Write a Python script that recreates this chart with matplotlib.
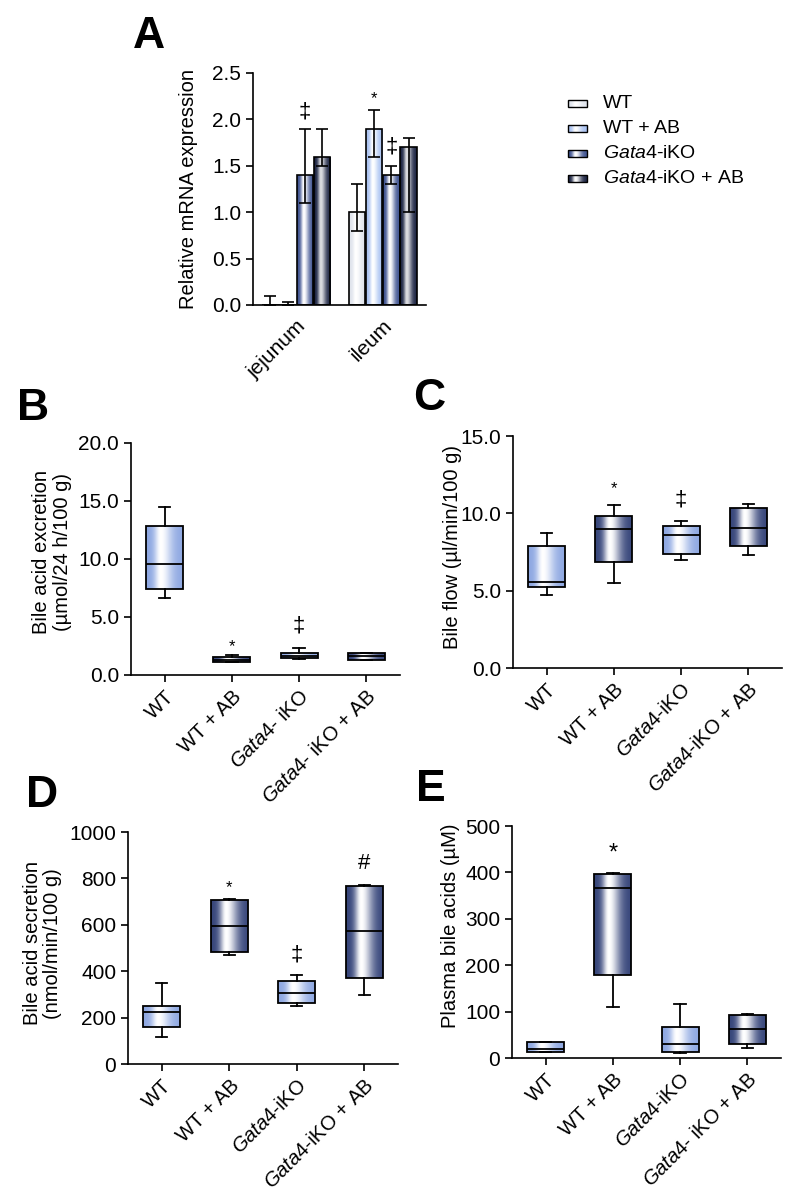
import numpy as np
import matplotlib
matplotlib.use('Agg')
from matplotlib import pyplot as plt
from matplotlib import patches as mpatches
from matplotlib.colors import to_rgb

plt.rcParams['font.family'] = 'Liberation Sans'
plt.rcParams['mathtext.fontset'] = 'custom'
plt.rcParams['mathtext.rm'] = 'Liberation Sans'
plt.rcParams['mathtext.it'] = 'Liberation Sans:italic'
plt.rcParams['axes.linewidth'] = 1.2

W, H = 800, 1195

GROUPS = ['WT', 'WT + AB', r'$\it{Gata4}$-iKO', r'$\it{Gata4}$-iKO + AB']
GROUPS_B = ['WT', 'WT + AB', r'$\it{Gata4}$- iKO', r'$\it{Gata4}$- iKO + AB']
GROUPS_E = ['WT', 'WT + AB', r'$\it{Gata4}$-iKO', r'$\it{Gata4}$- iKO + AB']

# Panel A - relative mRNA expression (mean, lower err, upper err)
A_TISSUES = ['jejunum', 'ileum']
a_wt = [0.0, 1.0]
a_wt_lo = [0.0, 0.8]
a_wt_hi = [0.1, 1.3]
a_wtab = [0.0, 1.9]
a_wtab_lo = [0.0, 1.6]
a_wtab_hi = [0.03, 2.1]
a_ko = [1.4, 1.4]
a_ko_lo = [1.1, 1.3]
a_ko_hi = [1.9, 1.5]
a_koab = [1.6, 1.7]
a_koab_lo = [1.5, 1.0]
a_koab_hi = [1.9, 1.8]

# box stats: whislo, q1, med, q3, whishi
b_stats = [[6.65, 7.42, 9.57, 12.84, 14.44],
           [1.09, 1.09, 1.30, 1.58, 1.69],
           [1.40, 1.43, 1.63, 1.92, 2.32],
           [1.29, 1.32, 1.60, 1.86, 1.89]]
c_stats = [[4.69, 5.24, 5.54, 7.87, 8.70],
           [5.50, 6.86, 8.96, 9.84, 10.51],
           [6.98, 7.35, 8.58, 9.16, 9.52],
           [7.31, 7.91, 9.07, 10.36, 10.60]]
d_stats = [[118, 158, 222, 251, 347],
           [469, 481, 595, 707, 710],
           [248, 261, 306, 359, 382],
           [297, 369, 575, 766, 773]]
e_stats = [[13, 13.6, 20, 35, 35],
           [109, 179, 367, 397.5, 399],
           [10, 14, 31, 67, 117],
           [21, 31, 62, 92, 95]]

# significance marks: (bar/group position, y, symbol, size)
a_marks = [(2, 2.08, '‡', 16), (6, 2.22, '*', 12), (7, 1.70, '‡', 16)]
b_marks = [(1, 2.45, '*', 12), (2, 4.25, '‡', 16)]
c_marks = [(1, 11.6, '*', 12), (2, 10.85, '‡', 16)]
d_marks = [(1, 760, '*', 12), (2, 470, '‡', 16), (3, 865, '#', 16)]
e_marks = [(1, 440, '*', 17)]

BAR_COLORS = ['#dfe3ec', '#a9c2f2', '#3e5290', '#1b2342']
LIGHT_BOX = '#8ea8e2'
DARK_BOX = '#36457a'
BOX_COLORS = [LIGHT_BOX, DARK_BOX, LIGHT_BOX, DARK_BOX]

TICK_FS = 15
LABEL_FS = 14.5


def gradient_img(base, strength=1.0):
    t = np.linspace(0, 1, 200)
    w = np.where(t < 0.4, 0.17, 0.3)
    k = strength * np.exp(-((t - 0.4) / w) ** 2)
    rgb = np.array(to_rgb(base))
    img = rgb[None, :] * (1 - k[:, None]) + k[:, None]
    return img[None, :, :]


def fill_gradient(ax, patch, base, x0, x1, y0, y1, strength=1.0):
    patch.set_facecolor('none')
    im = ax.imshow(gradient_img(base, strength), extent=[x0, x1, y0, y1],
                   aspect='auto', interpolation='bilinear',
                   zorder=patch.get_zorder() - 0.1)
    im.set_clip_path(patch)


def axes_at(left, top, right, bottom):
    return fig.add_axes([left / W, 1 - bottom / H,
                         (right - left) / W, (bottom - top) / H])


def style(ax):
    ax.spines['top'].set_visible(False)
    ax.spines['right'].set_visible(False)
    ax.tick_params(labelsize=TICK_FS, width=1.2, length=5)


fig = plt.figure(figsize=(8, 11.95), dpi=100)

# ---------------- Panel A ----------------
ax = axes_at(253, 73, 426, 305)
style(ax)
series = [(a_wt, a_wt_lo, a_wt_hi), (a_wtab, a_wtab_lo, a_wtab_hi),
          (a_ko, a_ko_lo, a_ko_hi), (a_koab, a_koab_lo, a_koab_hi)]
for k, (vals, lo, hi) in enumerate(series):
    xs = [k + 5 * i for i in range(len(A_TISSUES))]
    bars = ax.bar(xs, vals, width=0.95, edgecolor='black', linewidth=1.2,
                  zorder=2)
    for b, v in zip(bars, vals):
        if v > 0:
            fill_gradient(ax, b, BAR_COLORS[k], b.get_x(),
                          b.get_x() + b.get_width(), 0, v,
                          strength=0.85 if k == 3 else 1.0)
    yerr = [np.array(vals) - np.array(lo), np.array(hi) - np.array(vals)]
    ax.errorbar(xs, vals, yerr=yerr, fmt='none', ecolor='black',
                elinewidth=1.2, capsize=4, capthick=1.2, zorder=3)
for g, y, s, fs in a_marks:
    ax.text(g, y, s, ha='center', va='center', fontsize=fs)
ax.set_xlim(-1, 9)
ax.set_ylim(0, 2.5)
ax.set_yticks([0, 0.5, 1.0, 1.5, 2.0, 2.5])
ax.set_yticklabels(['%.1f' % v for v in ax.get_yticks()])
ax.set_xticks([1.5, 6.5])
ax.set_xticklabels(A_TISSUES, rotation=45, ha='right', va='top',
                   rotation_mode='anchor')
ax.tick_params(axis='x', length=0, pad=8)
ax.set_ylabel('Relative mRNA expression', fontsize=LABEL_FS)
ax.yaxis.set_label_coords(-0.318, 0.5)

# legend drawn by hand so the swatches keep the gradient
lax = fig.add_axes([0, 0, 1, 1], facecolor='none')
lax.axis('off')
for k, lab in enumerate(GROUPS):
    yc = 103 + 25.3 * k
    r = mpatches.Rectangle((568, yc - 3.5), 19, 7, edgecolor='black',
                           linewidth=1.0, zorder=3)
    lax.add_patch(r)
    fill_gradient(lax, r, BAR_COLORS[k], 568, 587, yc + 3.5, yc - 3.5)
    lax.text(603, yc, lab, fontsize=14, va='center', ha='left')
lax.set_xlim(0, W)
lax.set_ylim(H, 0)


# ---------------- Box panels ----------------
def box_panel(box, stats, labels, ylim, yticks, fmt, marks, ylabel,
              label_xy):
    ax = axes_at(*box)
    style(ax)
    bstats = [dict(whislo=s[0], q1=s[1], med=s[2], q3=s[3], whishi=s[4],
                   fliers=[]) for s in stats]
    art = ax.bxp(bstats, positions=range(4), widths=0.55, capwidths=0.17,
                 patch_artist=True, showfliers=False, manage_ticks=False,
                 boxprops=dict(linewidth=1.3, edgecolor='black'),
                 medianprops=dict(color='black', linewidth=1.3),
                 whiskerprops=dict(linewidth=1.3),
                 capprops=dict(linewidth=1.3))
    for i, patch in enumerate(art['boxes']):
        fill_gradient(ax, patch, BOX_COLORS[i], i - 0.275, i + 0.275,
                      stats[i][1], stats[i][3])
    for g, y, s, fs in marks:
        ax.text(g, y, s, ha='center', va='center', fontsize=fs)
    ax.set_xlim(-0.5, 3.5)
    ax.set_ylim(*ylim)
    ax.set_yticks(yticks)
    ax.set_yticklabels([fmt % v for v in yticks])
    ax.set_xticks(range(4))
    ax.set_xticklabels(labels, rotation=45, ha='right', va='top',
                       rotation_mode='anchor', fontsize=14.5)
    ax.set_ylabel(ylabel, fontsize=LABEL_FS, linespacing=1.1)
    ax.yaxis.set_label_coords(*label_xy)
    return ax


box_panel((131, 443, 400, 675), b_stats, GROUPS_B, (0, 20),
          [0, 5, 10, 15, 20], '%.1f', b_marks,
          'Bile acid excretion\n(µmol/24 h/100 g)', (-0.22, 0.53))
box_panel((513, 436, 782, 668), c_stats, GROUPS, (0, 15),
          [0, 5, 10, 15], '%.1f', c_marks,
          'Bile flow (µl/min/100 g)', (-0.19, 0.52))
box_panel((128, 832, 398, 1064), d_stats, GROUPS, (0, 1000),
          [0, 200, 400, 600, 800, 1000], '%d', d_marks,
          'Bile acid secretion\n(nmol/min/100 g)', (-0.244, 0.52))
box_panel((512, 826, 781, 1058), e_stats, GROUPS_E, (0, 500),
          [0, 100, 200, 300, 400, 500], '%d', e_marks,
          'Plasma bile acids (µM)', (-0.193, 0.57))

# panel letters
for letter, x, y in [('A', 133, 48), ('B', 17, 420), ('C', 413, 410),
                     ('D', 26, 807), ('E', 416, 801)]:
    fig.text(x / W, 1 - y / H, letter, fontsize=32, fontweight='bold',
             ha='left', va='baseline')

fig.savefig('out.png', dpi=100)
